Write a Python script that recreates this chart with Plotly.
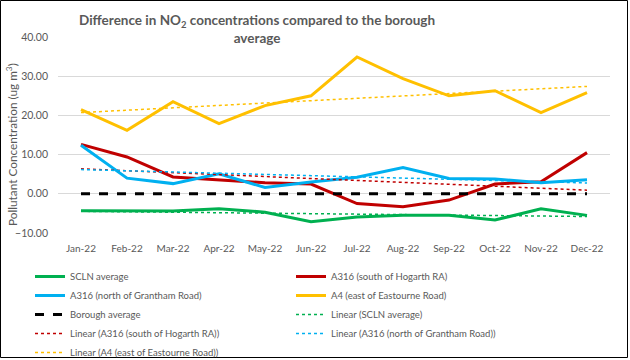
import numpy as np
import plotly.graph_objects as go

months = ["Jan-22", "Feb-22", "Mar-22", "Apr-22", "May-22", "Jun-22",
          "Jul-22", "Aug-22", "Sep-22", "Oct-22", "Nov-22", "Dec-22"]

scln_avg = [-4.3, -4.3, -4.4, -3.8, -4.7, -7.1, -5.9, -5.5, -5.5, -6.7, -3.8, -5.5]
a316_south = [12.6, 9.4, 4.3, 3.6, 2.8, 2.5, -2.5, -3.3, -1.6, 2.5, 3.1, 10.5]
a316_north = [12.4, 4.0, 2.6, 5.1, 1.6, 3.0, 4.2, 6.7, 3.9, 3.8, 2.8, 3.6]
a4_east = [21.5, 16.2, 23.5, 17.9, 22.5, 25.0, 34.9, 29.4, 25.0, 26.3, 20.7, 25.8]
borough_avg = [0, 0, 0, 0, 0, 0, 0, 0, 0, 0, 0, 0]

y_ticks = [-10, 0, 10, 20, 30, 40]

GREEN = "#00B050"
RED = "#C00000"
BLUE = "#00B0F0"
YELLOW = "#FFC000"
GREY = "#595959"
FONT = "Lato"


def linear_fit(values):
    x = np.arange(len(values))
    slope, intercept = np.polyfit(x, values, 1)
    return list(slope * x + intercept)


fig = go.Figure()

solid = [
    ("SCLN average", scln_avg, GREEN),
    ("A316 (south of Hogarth RA)", a316_south, RED),
    ("A316 (north of Grantham Road)", a316_north, BLUE),
    ("A4 (east of Eastourne Road)", a4_east, YELLOW),
]
for name, vals, col in solid:
    fig.add_trace(go.Scatter(x=months, y=vals, name=name, mode="lines",
                             line=dict(color=col, width=3)))

fig.add_trace(go.Scatter(x=months, y=borough_avg, name="Borough average", mode="lines",
                         line=dict(color="black", width=3, dash="dash")))

trend = [
    ("Linear (SCLN average)", scln_avg, GREEN),
    ("Linear (A316 (south of Hogarth RA))", a316_south, RED),
    ("Linear (A316 (north of Grantham Road))", a316_north, BLUE),
    ("Linear (A4 (east of Eastourne Road))", a4_east, YELLOW),
]
for name, vals, col in trend:
    fig.add_trace(go.Scatter(x=months, y=linear_fit(vals), name=name, mode="lines",
                             line=dict(color=col, width=1.5, dash="dot")))

fig.update_layout(
    width=630, height=360,
    margin=dict(l=58, r=20, t=37, b=127, autoexpand=False),
    paper_bgcolor="white", plot_bgcolor="white",
    font=dict(family=FONT, color=GREY, size=10),
    title=dict(
        text="<b>Difference in NO<sub>2</sub> concentrations compared to the borough<br>average</b>",
        x=0.408, xref="container", xanchor="center",
        y=1 - 25 / 360, yref="container", yanchor="top",
        font=dict(family=FONT, size=13.5, color=GREY),
    ),
    xaxis=dict(
        type="category", range=[-0.5, 11.5], showgrid=False, showline=False,
        zeroline=False, tickfont=dict(size=10, color=GREY), ticks="",
        ticklabelstandoff=8,
    ),
    yaxis=dict(
        range=[-10, 40], tickvals=y_ticks, tickformat=".2f",
        showgrid=True, gridcolor="#D9D9D9", gridwidth=1, zeroline=False,
        showline=False, tickfont=dict(size=10.5, color=GREY), ticklabelstandoff=9,
    ),
    annotations=[dict(
        text="Pollutant Concentration (ug m<sup>3</sup>)",
        textangle=-90, xref="paper", yref="paper",
        x=(12 - 58) / 552, y=(233 - 145) / 196,
        xanchor="center", yanchor="middle", showarrow=False,
        font=dict(family=FONT, size=11.8, color=GREY),
    )],
    legend=dict(
        orientation="h", xref="container", yref="container",
        x=30 / 630, y=1 - 262 / 360, xanchor="left", yanchor="top",
        entrywidth=216, entrywidthmode="pixels", maxheight=200,
        font=dict(size=9.5, color=GREY), bgcolor="rgba(0,0,0,0)",
        itemwidth=30, tracegroupgap=0,
    ),
    shapes=[dict(type="rect", xref="paper", yref="paper",
                 x0=(0.5 - 58) / 552, x1=(627.5 - 58) / 552,
                 y0=(233 - 357.5) / 196, y1=(233 - 0.5) / 196,
                 line=dict(color="black", width=1), fillcolor="rgba(0,0,0,0)",
                 layer="below")],
)

fig.write_html("out.html", config={"displayModeBar": False},
               post_script="document.body.style.margin='0';")
